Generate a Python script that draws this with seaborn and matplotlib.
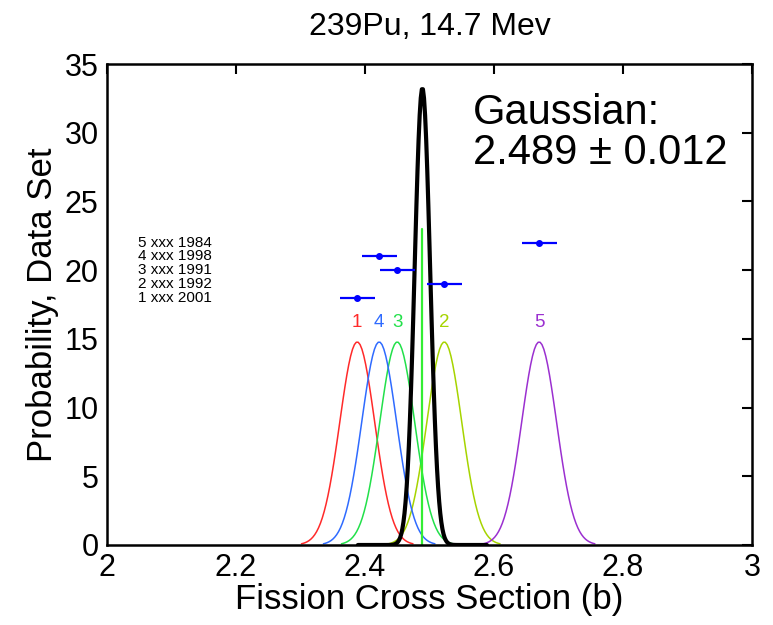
import numpy as np
import pandas as pd
import matplotlib
matplotlib.use("Agg")
import matplotlib.pyplot as plt
import seaborn as sns

# -------------------------
# Data
# -------------------------
set_ids = [1, 2, 3, 4, 5]
set_years = [2001, 1992, 1991, 1998, 1984]
set_means = [2.388, 2.523, 2.450, 2.422, 2.670]
set_sigmas = [0.027, 0.027, 0.027, 0.027, 0.027]
set_rows = [18, 19, 20, 21, 22]          # height of each error bar
set_colors = ["#ff2a2a", "#a6d400", "#22e04a", "#2f6bff", "#9b30d0"]

fit_mean = 2.489
fit_sigma = 0.012
fit_line_top = 23

# -------------------------
# Style
# -------------------------
sns.set_style("white")
plt.rcParams["font.family"] = ["Liberation Sans", "DejaVu Sans"]
plt.rcParams["text.color"] = "black"
plt.rcParams["axes.labelcolor"] = "black"
plt.rcParams["xtick.color"] = "black"
plt.rcParams["ytick.color"] = "black"


def gauss(x, m, s):
    return np.exp(-0.5 * ((x - m) / s) ** 2) / (np.sqrt(2 * np.pi) * s)


rows = []
for sid, m, s in zip(set_ids, set_means, set_sigmas):
    x = np.linspace(m - 3.2 * s, m + 3.2 * s, 60)
    for xv in x:
        rows.append({"set": str(sid), "x": xv, "p": gauss(xv, m, s)})
curves = pd.DataFrame(rows)

xf = np.linspace(fit_mean - 0.1, fit_mean + 0.1, 120)
fit = pd.DataFrame({"x": xf, "p": gauss(xf, fit_mean, fit_sigma)})

fig = plt.figure(figsize=(7.73, 6.25), dpi=100)
ax = fig.add_axes([0.1384, 0.128, 0.8344, 0.7696])

palette = {str(i): c for i, c in zip(set_ids, set_colors)}
sns.lineplot(data=curves, x="x", y="p", hue="set", palette=palette,
             linewidth=1.1, legend=False, ax=ax, sort=False)

# vertical line at the fitted mean
ax.plot([fit_mean, fit_mean], [0, fit_line_top], color="#33ee33", linewidth=1.6)

sns.lineplot(data=fit, x="x", y="p", color="black", linewidth=3.0, ax=ax)

# error bars
for sid, m, s, r in zip(set_ids, set_means, set_sigmas, set_rows):
    ax.errorbar(m, r, xerr=s, fmt="o", color="#0000ff", markersize=4,
                elinewidth=1.6, capsize=0)

# numbers above peaks
for sid, m, s, c in zip(set_ids, set_means, set_sigmas, set_colors):
    ax.text(m, gauss(m, m, s) + 0.8, str(sid), color=c, fontsize=13.5,
            ha="center", va="bottom")

# data set list
for sid, yr, r in zip(set_ids, set_years, set_rows):
    ax.text(2.048, r, f"{sid} xxx {yr}", fontsize=11,
            ha="left", va="center")

ax.text(2.568, 32.9, "Gaussian:\n2.489 \u00b1 0.012", fontsize=30,
        ha="left", va="top", linespacing=1.02)

ax.set_xlim(2, 3)
ax.set_ylim(0, 35)
ax.set_xticks([2, 2.2, 2.4, 2.6, 2.8, 3])
ax.set_xticklabels(["2", "2.2", "2.4", "2.6", "2.8", "3"])
ax.set_yticks(range(0, 36, 5))
ax.tick_params(direction="in", length=7, width=1.5, labelsize=22,
               top=True, right=True, pad=6)
for sp in ax.spines.values():
    sp.set_linewidth(1.8)
    sp.set_color("black")

ax.set_xlabel("Fission Cross Section (b)", fontsize=25, labelpad=0)
ax.set_ylabel("Probability, Data Set", fontsize=25, labelpad=4)
ax.set_title("239Pu, 14.7 Mev", fontsize=23, pad=21)

fig.savefig("out.png", dpi=100)
plt.close(fig)
